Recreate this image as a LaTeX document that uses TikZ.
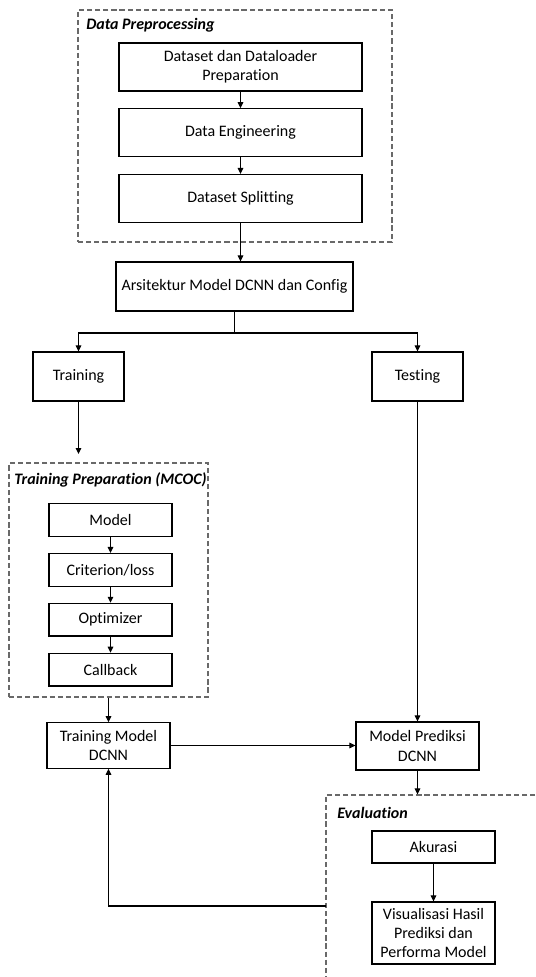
\documentclass[tikz,border=0pt]{standalone}
\usepackage{fontspec}
\setmainfont{Carlito}[Ligatures=NoCommon]
\usepackage{tikz}
\usepackage{xcolor}
\usetikzlibrary{arrows.meta, positioning}
\definecolor{frameGray}{RGB}{105,105,105}

\begin{document}
\begin{tikzpicture}[
    x=0.75pt, y=-0.75pt,
    every node/.style={font=\fontsize{12}{14.4}\selectfont},
    box/.style   ={rectangle, draw=black, line width=0.9pt, align=center, inner sep=2pt, minimum width=182.25pt, minimum height=36pt},
    branch/.style={rectangle, draw=black, line width=0.9pt, align=center, inner sep=2pt, minimum width=68.25pt, minimum height=36.75pt},
    small/.style ={rectangle, draw=black, line width=0.9pt, align=center, inner sep=2pt, minimum width=92.25pt, minimum height=24.5pt},
    mid/.style   ={rectangle, draw=black, line width=0.9pt, align=center, inner sep=2pt, minimum width=92.25pt, minimum height=34pt},
    frame/.style ={rectangle, draw=frameGray, dash pattern=on 3.9pt off 2.2pt, line width=0.9pt, inner sep=0pt},
    ftitle/.style={anchor=west, inner sep=0pt, font=\fontsize{12}{14.4}\selectfont\bfseries\itshape},
    arrow/.style ={-{Triangle[length=4.5pt, width=4.2pt]}, line width=0.8pt, draw=black}
]
\useasboundingbox (0,0) rectangle (535,977);
\clip (0,0) rectangle (535,977);
% data preprocessing
\node[frame, minimum width=235.5pt, minimum height=174pt] (prepframe) at (235,126) {};
\node[ftitle] (preptitle) at (86,25) {Data Preprocessing};
\node[box] (dsload) at (240.5,67) {Dataset dan Dataloader\\Preparation};
\node[box, below=12.4pt of dsload] (dataeng) {Data Engineering};
\node[box, below=12.4pt of dataeng] (split) {Dataset Splitting};
\node[box, minimum width=177.75pt, minimum height=36.75pt] (arsi) at (234.5,286.5) {Arsitektur Model DCNN dan Config};
\node[branch] (training) at (78.5,376.5) {Training};
\node[branch] (testing) at (417.5,376.5) {Testing};
% training preparation
\node[frame, minimum width=149.25pt, minimum height=175.5pt] (trainframe) at (108.5,580) {};
\node[ftitle] (traintitle) at (14,480) {Training Preparation (MCOC)};
\node[small] (model) at (110.5,520) {Model};
\node[small, below=12pt of model] (criterion) {Criterion/loss};
\node[small, below=12pt of criterion] (optim) {Optimizer};
\node[small, below=12pt of optim] (callback) {Callback};
\node[mid] (trmodel) at (108.5,745.5) {Training Model\\DCNN};
\node[mid, minimum height=36pt] (predmodel) at (417.5,746) {Model Prediksi\\DCNN};
% evaluation
\node[frame, minimum width=175.5pt, minimum height=153.75pt] (evalframe) at (443,897.5) {};
\node[ftitle] (evaltitle) at (337,813) {Evaluation};
\node[small, minimum height=24pt] (akurasi) at (433.5,847) {Akurasi};
\node[small, minimum height=46.5pt] (visual) at (433.5,933) {Visualisasi Hasil\\Prediksi dan\\Performa Model};
\coordinate (fork) at (234.5,333);
\coordinate (prepin) at (78.5,454);
\coordinate (back) at (326,906);
\draw[arrow] (dsload) -- (dataeng);
\draw[arrow] (dataeng) -- (split);
\draw[arrow] (split.south) -- (split.south |- arsi.north);
\draw[line width=0.8pt] (arsi) -- (fork);
\draw[arrow] (fork) -| (training);
\draw[arrow] (fork) -| (testing);
\draw[arrow] (training) -- (prepin);
\draw[arrow] (model) -- (criterion);
\draw[arrow] (criterion) -- (optim);
\draw[arrow] (optim) -- (callback);
\draw[arrow] (trainframe.south -| trmodel) -- (trmodel);
\draw[arrow] (testing) -- (predmodel);
\draw[arrow] (trmodel.east) -- (trmodel.east -| predmodel.west);
\draw[arrow] (predmodel) -- (predmodel.south |- evalframe.north);
\draw[arrow] (akurasi) -- (visual);
\draw[arrow] (back) -| (trmodel);
\end{tikzpicture}
\end{document}
